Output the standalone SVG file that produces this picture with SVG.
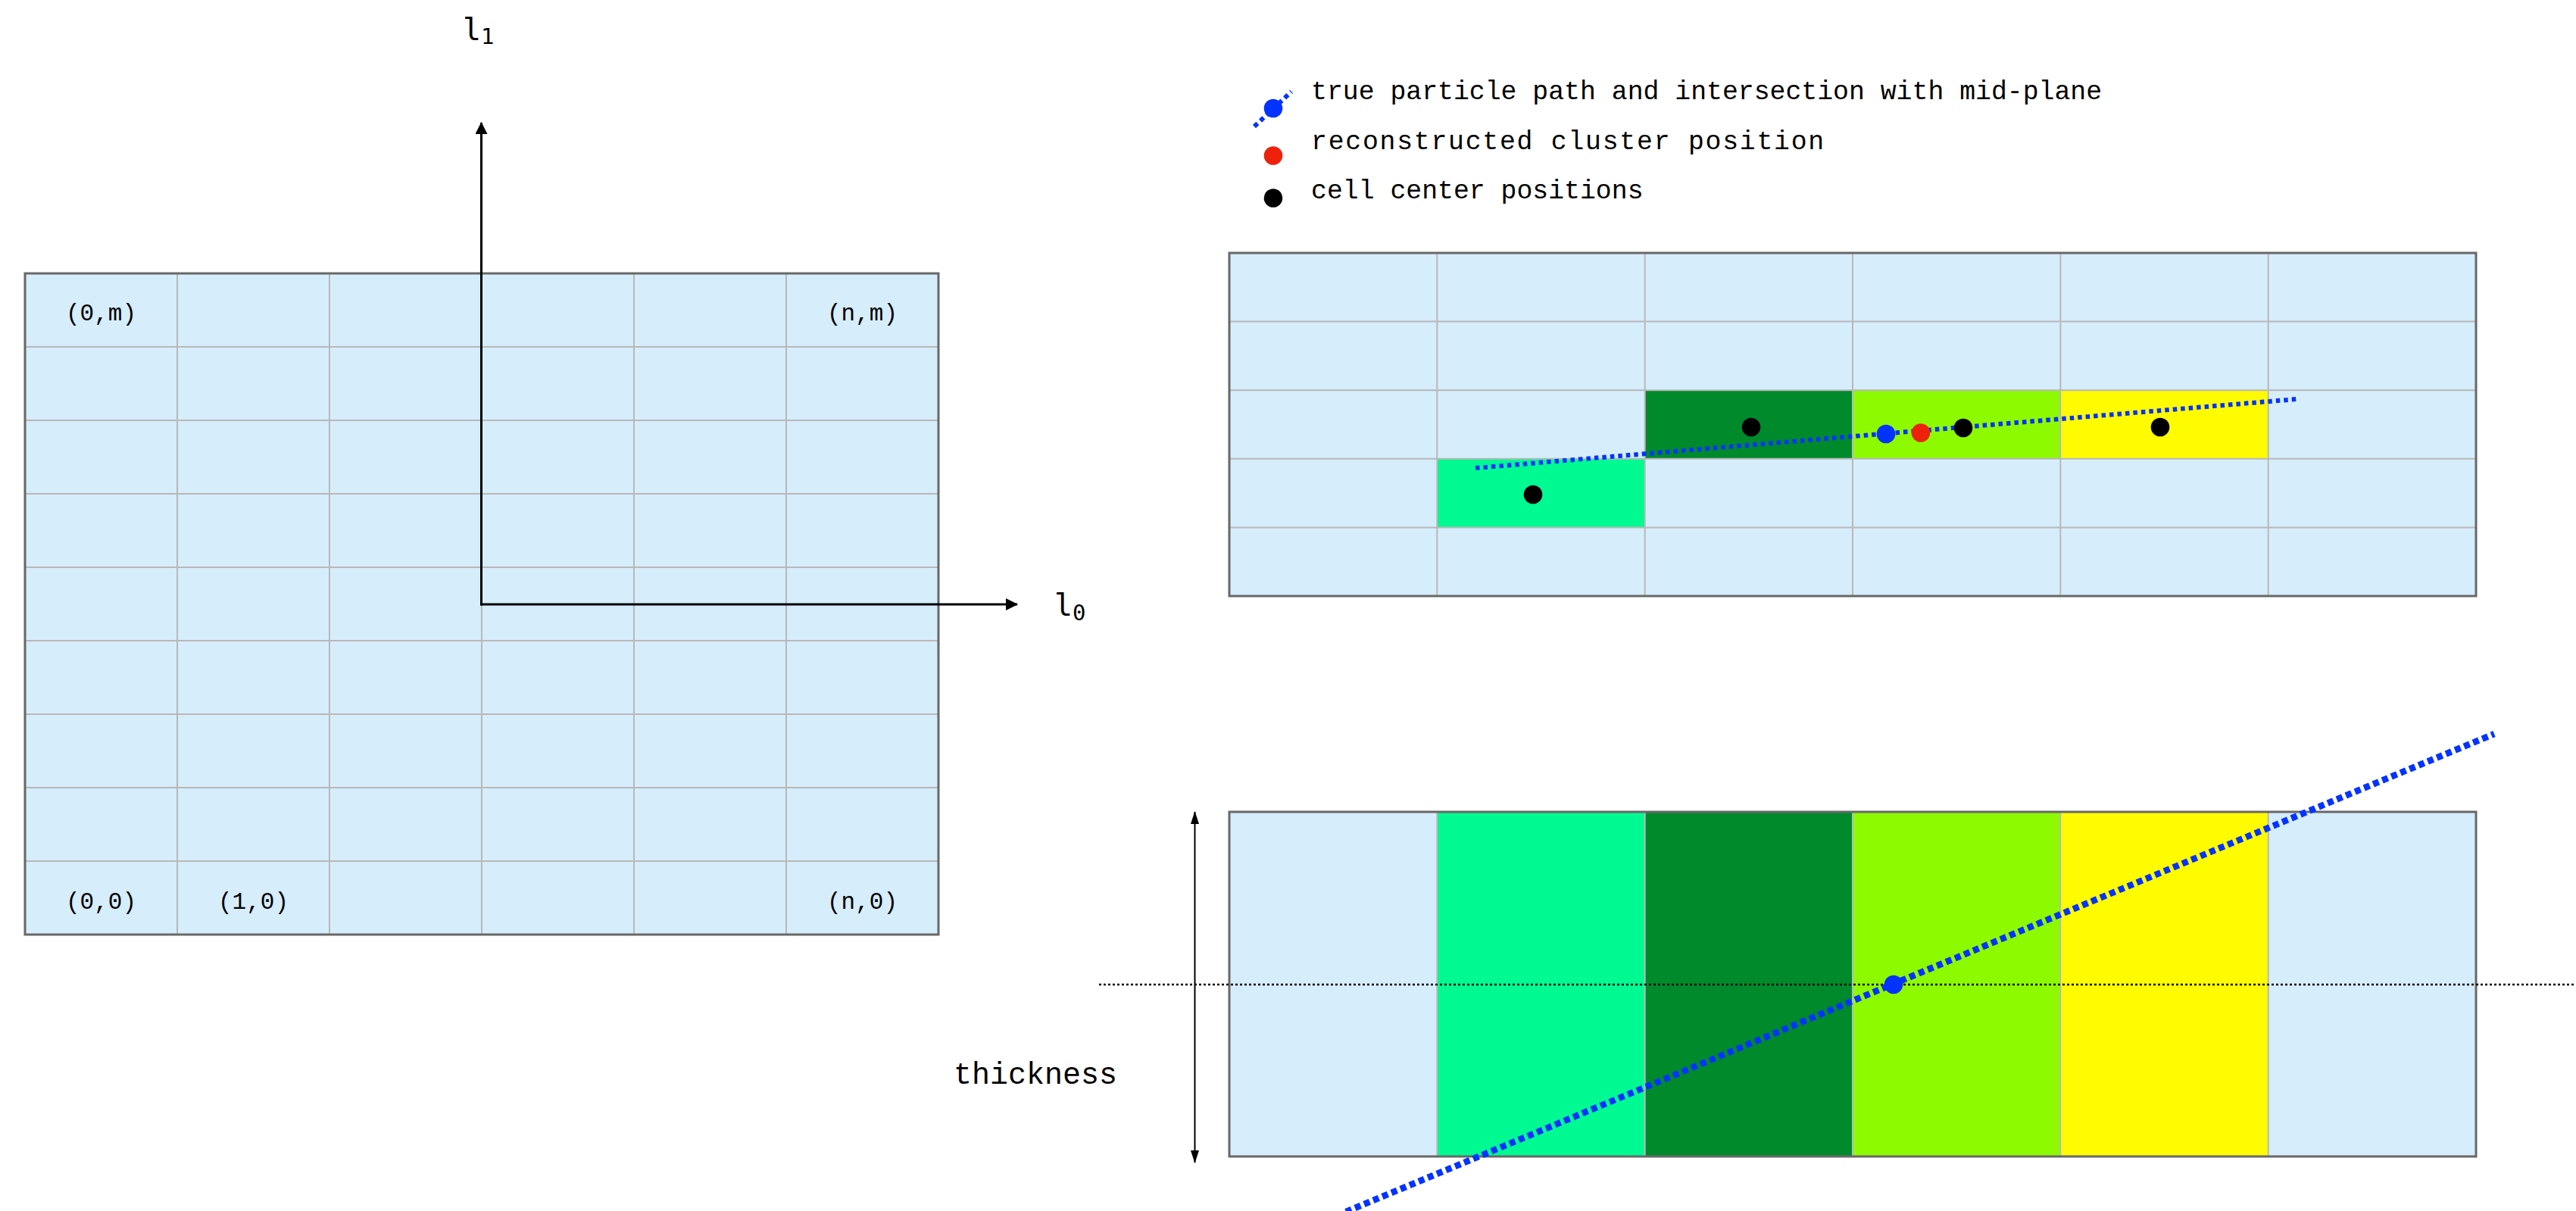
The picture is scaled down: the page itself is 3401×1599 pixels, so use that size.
<svg xmlns="http://www.w3.org/2000/svg" width="3401" height="1599" viewBox="0 0 3401 1599">
<style>
.bg{fill:#d6edfc}
.grid{stroke:#b8b8b8;stroke-width:2;fill:none}
.border{fill:none;stroke:#686868;stroke-width:3}
.mono{font-family:"Liberation Mono","Courier New",monospace;fill:#000}
.cell{font-size:31px;text-anchor:middle}
.leg{font-size:34.8px}
.axis{font-family:"DejaVu Sans Mono",monospace;font-size:40px;fill:#000}
.path{stroke:#0433ff;fill:none}
.dot-b{fill:#0433ff}
.dot-r{fill:#ee220c}
.dot-k{fill:#000}
.seafoam{fill:#00fa92}
.dkgreen{fill:#008a2c}
.lime{fill:#8efa00}
.lemon{fill:#fffb00}
</style>
<defs>
<marker id="ah" markerWidth="16" markerHeight="16" refX="15" refY="8" orient="auto" markerUnits="userSpaceOnUse">
<path d="M0,0 L16,8 L0,16 Z" fill="#000"/>
</marker>
<marker id="ahs" markerWidth="17" markerHeight="11" refX="16" refY="5.5" orient="auto-start-reverse" markerUnits="userSpaceOnUse">
<path d="M0,0 L17,5.5 L0,11 Z" fill="#000"/>
</marker>
</defs>
<rect width="3401" height="1599" fill="#fff"/>

<g id="left-grid">
<rect class="bg" x="33" y="361" width="1206" height="873"/>
<path class="grid" d="M234,361V1234M435,361V1234M636,361V1234M837,361V1234M1038,361V1234M33,458H1239M33,555H1239M33,652H1239M33,749H1239M33,846H1239M33,943H1239M33,1040H1239M33,1137H1239"/>
<rect class="border" x="33" y="361" width="1206" height="873"/>
<text class="mono cell" x="133.5" y="423">(0,m)</text>
<text class="mono cell" x="1138.5" y="423">(n,m)</text>
<text class="mono cell" x="133.5" y="1200">(0,0)</text>
<text class="mono cell" x="334.5" y="1200">(1,0)</text>
<text class="mono cell" x="1138.5" y="1200">(n,0)</text>
</g>

<g id="axes">
<line x1="635.5" y1="799.5" x2="635.5" y2="162" stroke="#000" stroke-width="3" marker-end="url(#ah)"/>
<line x1="634" y1="798" x2="1343" y2="798" stroke="#000" stroke-width="3" marker-end="url(#ah)"/>
<text class="axis" x="611" y="53">l<tspan font-size="29" dy="5">1</tspan></text>
<text class="axis" x="1392" y="813">l<tspan font-size="29" dy="6">0</tspan></text>
</g>

<g id="legend">
<line class="path" x1="1656" y1="167" x2="1705" y2="121" stroke-width="6" stroke-dasharray="6 5"/>
<circle class="dot-b" cx="1681" cy="143" r="12.3"/>
<circle class="dot-r" cx="1681" cy="205.5" r="12.3"/>
<circle class="dot-k" cx="1681" cy="261.5" r="12.3"/>
<text class="mono leg" x="1731" y="130.7">true particle path and intersection with mid-plane</text>
<text class="mono leg" x="1731" y="197.3" letter-spacing="1.75">reconstructed cluster position</text>
<text class="mono leg" x="1731" y="262.3">cell center positions</text>
</g>

<g id="top-grid">
<rect class="bg" x="1623" y="334" width="1646" height="453"/>
<rect class="dkgreen" x="2171.7" y="515.2" width="274.3" height="90.6"/>
<rect class="lime" x="2446" y="515.2" width="274.3" height="90.6"/>
<rect class="lemon" x="2720.3" y="515.2" width="274.4" height="90.6"/>
<rect class="seafoam" x="1897.3" y="605.8" width="274.4" height="90.6"/>
<path class="grid" d="M1897.3,334V787M2171.7,334V787M2446,334V787M2720.3,334V787M2994.7,334V787M1623,424.6H3269M1623,515.2H3269M1623,605.8H3269M1623,696.4H3269"/>
<rect class="border" x="1623" y="334" width="1646" height="453"/>
</g>

<g id="top-track">
<line class="path" x1="1948" y1="618" x2="3032" y2="527" stroke-width="6" stroke-dasharray="5.5 5"/>
<circle class="dot-k" cx="2024" cy="653" r="12.3"/>
<circle class="dot-k" cx="2312" cy="564" r="12.3"/>
<circle class="dot-k" cx="2592" cy="565" r="12.3"/>
<circle class="dot-k" cx="2852" cy="564" r="12.3"/>
<circle class="dot-b" cx="2490" cy="573" r="12.3"/>
<circle class="dot-r" cx="2536" cy="571.5" r="12.3"/>
</g>

<g id="bottom-grid">
<rect class="bg" x="1623" y="1072" width="1646" height="455"/>
<rect class="seafoam" x="1897.3" y="1072" width="274.4" height="455"/>
<rect class="dkgreen" x="2171.7" y="1072" width="274.3" height="455"/>
<rect class="lime" x="2446" y="1072" width="274.3" height="455"/>
<rect class="lemon" x="2720.3" y="1072" width="274.4" height="455"/>
<path class="grid" d="M1897.3,1072V1527M2171.7,1072V1527M2446,1072V1527M2720.3,1072V1527M2994.7,1072V1527"/>
<rect class="border" x="1623" y="1072" width="1646" height="455"/>
</g>

<g id="connectors">
<line x1="1451" y1="1300" x2="3401" y2="1300" stroke="#000" stroke-width="2.5" stroke-dasharray="3 3"/>
<line class="path" x1="1777" y1="1600" x2="3293" y2="969" stroke-width="8.5" stroke-dasharray="8 5"/>
<circle class="dot-b" cx="2500" cy="1300" r="12.3"/>
<line x1="1577.5" y1="1072" x2="1577.5" y2="1535" stroke="#000" stroke-width="2" marker-start="url(#ahs)" marker-end="url(#ahs)"/>
</g>

<text class="mono" x="1259" y="1431" font-size="40">thickness</text>
</svg>
